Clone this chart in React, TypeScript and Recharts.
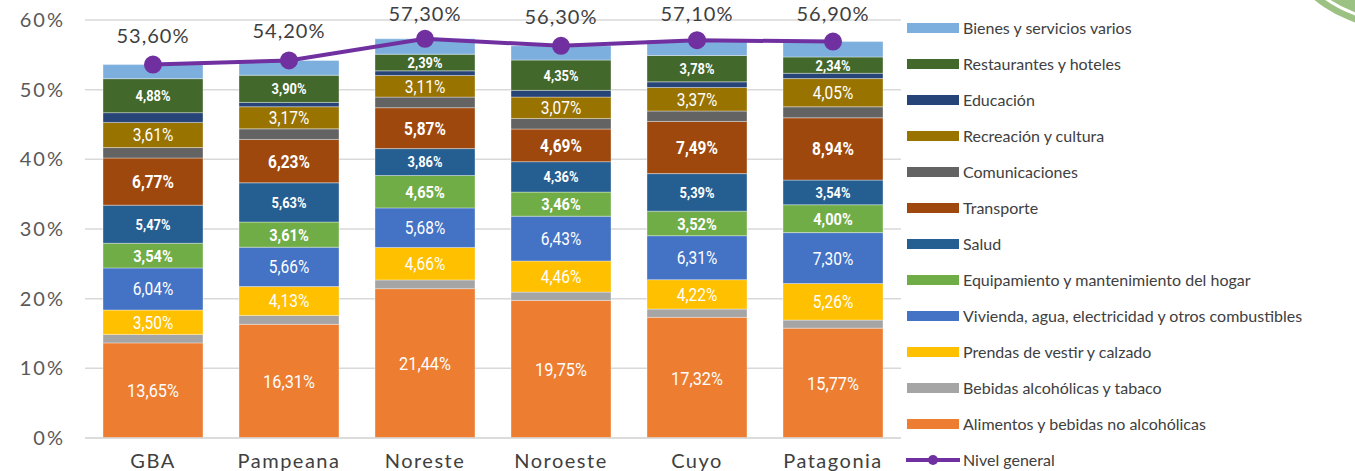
import React from 'react'
import {
  ComposedChart,
  Bar,
  Line,
  XAxis,
  YAxis,
  CartesianGrid,
  LabelList,
} from 'recharts'

const categories = ['GBA', 'Pampeana', 'Noreste', 'Noroeste', 'Cuyo', 'Patagonia']

const alimentos = [13.65, 16.31, 21.44, 19.75, 17.32, 15.77]
const bebidas = [1.22, 1.29, 1.25, 1.2, 1.19, 1.15]
const prendas = [3.5, 4.13, 4.66, 4.46, 4.22, 5.26]
const vivienda = [6.04, 5.66, 5.68, 6.43, 6.31, 7.3]
const equipamiento = [3.54, 3.61, 4.65, 3.46, 3.52, 4.0]
const salud = [5.47, 5.63, 3.86, 4.36, 5.39, 3.54]
const transporte = [6.77, 6.23, 5.87, 4.69, 7.49, 8.94]
const comunicaciones = [1.5, 1.52, 1.52, 1.52, 1.5, 1.58]
const recreacion = [3.61, 3.17, 3.11, 3.07, 3.37, 4.05]
const educacion = [1.4, 0.62, 0.66, 0.96, 0.81, 0.76]
const restaurantes = [4.88, 3.9, 2.39, 4.35, 3.78, 2.34]
const bienes = [2.02, 2.13, 2.21, 2.05, 2.2, 2.21]
const nivelGeneral = [53.6, 54.2, 57.3, 56.3, 57.1, 56.9]

const yTicks = [0, 10, 20, 30, 40, 50, 60]

// stacking order, bottom to top
const series = [
  { key: 'alimentos', name: 'Alimentos y bebidas no alcohólicas', color: '#ED7D31', values: alimentos, label: { size: 19, bold: false } },
  { key: 'bebidas', name: 'Bebidas alcohólicas y tabaco', color: '#A5A5A5', values: bebidas, label: null },
  { key: 'prendas', name: 'Prendas de vestir y calzado', color: '#FFC000', values: prendas, label: { size: 18, bold: false } },
  { key: 'vivienda', name: 'Vivienda, agua, electricidad y otros combustibles', color: '#4472C4', values: vivienda, label: { size: 18, bold: false } },
  { key: 'equipamiento', name: 'Equipamiento y mantenimiento del hogar', color: '#70AD47', values: equipamiento, label: { size: 17, bold: true } },
  { key: 'salud', name: 'Salud', color: '#255E91', values: salud, label: { size: 15, bold: true } },
  { key: 'transporte', name: 'Transporte', color: '#9E480E', values: transporte, label: { size: 18, bold: true } },
  { key: 'comunicaciones', name: 'Comunicaciones', color: '#636363', values: comunicaciones, label: null },
  { key: 'recreacion', name: 'Recreación y cultura', color: '#997300', values: recreacion, label: { size: 18, bold: false } },
  { key: 'educacion', name: 'Educación', color: '#264478', values: educacion, label: null },
  { key: 'restaurantes', name: 'Restaurantes y hoteles', color: '#43682B', values: restaurantes, label: { size: 15, bold: true } },
  { key: 'bienes', name: 'Bienes y servicios varios', color: '#7CAFDD', values: bienes, label: null },
]

const data = categories.map((cat, i) => {
  const row: Record<string, string | number> = { cat, nivel: nivelGeneral[i] }
  series.forEach((s) => {
    row[s.key] = s.values[i]
  })
  return row
})

const fmt = (v: number) => v.toFixed(2).replace('.', ',') + '%'

const axisFont = "'Lato', 'DejaVu Sans', sans-serif"
const labelFont = "'Liberation Sans Narrow', 'Roboto', sans-serif"

function makeSegLabel(size: number, bold: boolean) {
  return (props: any) => {
    const { x, y, width, height, value } = props
    const cx = Number(x) + Number(width) / 2
    const cy = Number(y) + Number(height) / 2
    return (
      <text
        x={0}
        y={0}
        dy="0.36em"
        transform={`translate(${cx},${cy}) scale(0.86,1)`}
        textAnchor="middle"
        fill="#ffffff"
        fontSize={size}
        fontWeight={bold ? 700 : 400}
        fontFamily={labelFont}
      >
        {fmt(Number(value))}
      </text>
    )
  }
}

const lineLabel = (props: any) => {
  const { x, y, value } = props
  return (
    <text
      x={x}
      y={Math.max(Number(y) - 22, 21)}
      textAnchor="middle"
      fill="#404040"
      fontSize={20}
      letterSpacing={1}
      fontFamily={axisFont}
    >
      {fmt(Number(value))}
    </text>
  )
}

function LegendBox() {
  const items = [...series].reverse()
  return (
    <div style={{ position: 'absolute', left: 905, top: 18, fontFamily: axisFont, fontSize: 16, color: '#404040' }}>
      {items.map((s) => (
        <div key={s.key} style={{ height: 36, display: 'flex', alignItems: 'flex-start' }}>
          <div style={{ width: 52, height: 10, marginLeft: 2, marginTop: 5, background: s.color }} />
          <span style={{ marginLeft: 4, lineHeight: '20px', whiteSpace: 'nowrap' }}>{s.name}</span>
        </div>
      ))}
      <div style={{ height: 36, display: 'flex', alignItems: 'flex-start' }}>
        <svg width={56} height={20}>
          <line x1={1} y1={10} x2={55} y2={10} stroke="#7030A0" strokeWidth={4} />
          <circle cx={28} cy={10} r={5} fill="#7030A0" />
        </svg>
        <span style={{ marginLeft: 2, lineHeight: '20px' }}>Nivel general</span>
      </div>
    </div>
  )
}

export default function App() {
  return (
    <div style={{ position: 'absolute', left: 0, top: 0, width: 1355, height: 471, overflow: 'hidden', background: '#fff' }}>
      <ComposedChart
        width={1355}
        height={471}
        data={data}
        margin={{ top: 20, right: 454, bottom: 0, left: 0 }}
      >
        <CartesianGrid vertical={false} stroke="#d9d9d9" strokeWidth={1.5} />
        <XAxis
          dataKey="cat"
          height={33}
          tickLine={false}
          axisLine={{ stroke: '#d9d9d9', strokeWidth: 1.5 }}
          tickMargin={10}
          tick={{ fill: '#404040', fontSize: 20, fontFamily: axisFont, letterSpacing: 1.5 }}
        />
        <YAxis
          width={85}
          domain={[0, 60]}
          ticks={yTicks}
          tickFormatter={(v: number) => v + '%'}
          tickLine={false}
          axisLine={false}
          tickMargin={14}
          tick={{ fill: '#595959', fontSize: 20, fontFamily: axisFont, letterSpacing: 2 }}
        />
        {series.map((s) => (
          <Bar
            key={s.key}
            dataKey={s.key}
            name={s.name}
            stackId="a"
            fill={s.color}
            barSize={100}
            stroke="#ffffff"
            strokeOpacity={0.35}
            strokeWidth={1}
            isAnimationActive={false}
          >
            {s.label && (
              <LabelList dataKey={s.key} content={makeSegLabel(s.label.size, s.label.bold)} />
            )}
          </Bar>
        ))}
        <Line
          dataKey="nivel"
          name="Nivel general"
          stroke="#7030A0"
          strokeWidth={4}
          dot={{ r: 7, fill: '#7030A0', stroke: '#7030A0' }}
          isAnimationActive={false}
        >
          <LabelList dataKey="nivel" content={lineLabel} />
        </Line>
      </ComposedChart>
      <LegendBox />
      <svg style={{ position: 'absolute', left: 1290, top: 0 }} width={65} height={30}>
        <circle cx={110} cy={-107} r={137} fill="#9cc283" />
        <circle cx={110} cy={-107} r={129} fill="none" stroke="#ffffff" strokeWidth={3} />
      </svg>
    </div>
  )
}
